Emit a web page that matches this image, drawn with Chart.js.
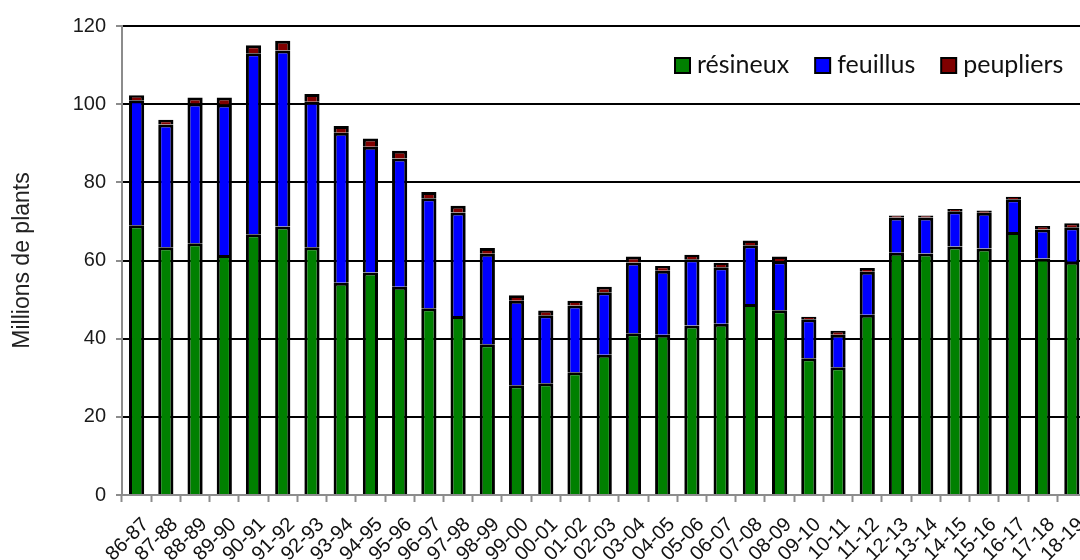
<!DOCTYPE html>
<html><head><meta charset="utf-8">
<script src="https://cdn.jsdelivr.net/npm/chart.js@4.4.0/dist/chart.umd.min.js"></script>
<style>
html,body{margin:0;padding:0;background:#fff;overflow:hidden;width:1080px;height:560px;}
#wrap{position:relative;width:1100px;height:560px;}
</style></head>
<body><div id="wrap"><canvas id="c" width="1100" height="560"></canvas></div>
<script>
const categories = ['86-87','87-88','88-89','89-90','90-91','91-92','92-93','93-94','94-95','95-96','96-97','97-98','98-99','99-00','00-01','01-02','02-03','03-04','04-05','05-06','06-07','07-08','08-09','09-10','10-11','11-12','12-13','13-14','14-15','15-16','16-17','17-18','18-19'];
const resineux  = [69.0,63.4,64.4,61.4,66.7,68.7,63.4,54.3,56.9,53.3,47.8,45.8,38.6,28.1,28.6,31.4,35.9,41.4,41.0,43.4,43.8,48.9,47.3,35.0,32.7,46.1,62.0,61.8,63.6,63.1,67.3,60.5,59.7];
const feuillus  = [32.0,31.4,35.8,38.5,46.3,45.0,37.2,38.4,32.2,32.8,28.1,26.5,23.1,21.6,17.4,17.1,16.0,18.1,16.4,16.9,14.5,15.0,12.5,10.0,8.3,11.0,9.0,9.2,9.0,9.1,8.4,7.4,8.8];
const peupliers = [1.3,1.2,1.5,1.8,2.1,2.5,2.0,1.7,2.1,2.0,1.6,1.7,1.5,1.4,1.2,1.2,1.4,1.5,1.2,1.2,1.1,1.2,1.2,0.6,1.0,1.0,0.5,0.5,0.6,0.6,0.6,0.9,1.0];
const seriesNames = ['résineux','feuillus','peupliers'];
const seriesColors = ['#008000','#0000FF','#800000'];
const yTicks = [0,20,40,60,80,100,120];
const yTitle = 'Millions de plants';

const legendPlugin = {
  id:'insideLegend',
  afterDraw(chart){
    const ctx = chart.ctx;
    ctx.save();
    ctx.font = '25px Lato, "Open Sans", sans-serif';
    ctx.textBaseline = 'alphabetic';
    let x = 674;
    chart.data.datasets.forEach(ds => {
      ctx.fillStyle = ds.backgroundColor;
      ctx.fillRect(x+1, 58, 15, 15);
      ctx.lineWidth = 2; ctx.strokeStyle = '#000';
      ctx.strokeRect(x+1, 58, 15, 15);
      ctx.fillStyle = '#111';
      const tx = x + 23;
      ctx.fillText(ds.label, tx, 73);
      x = tx + ctx.measureText(ds.label).width + 25;
    });
    ctx.restore();
  }
};

const tickFont = {family:'"Liberation Sans", Arial, sans-serif', size:20};

new Chart(document.getElementById('c'), {
  type:'bar',
  data:{
    labels:categories,
    datasets:[resineux,feuillus,peupliers].map((d,i)=>({label:seriesNames[i], data:d, backgroundColor:seriesColors[i], borderColor:'#000', borderWidth:3}))
  },
  options:{
    responsive:false, animation:false,
    layout:{padding:{top:26,right:12,left:0,bottom:0}},
    datasets:{bar:{barPercentage:0.52,categoryPercentage:1}},
    plugins:{legend:{display:false},tooltip:{enabled:false}},
    scales:{
      x:{
        stacked:true,
        grid:{offset:true, drawOnChartArea:false, tickColor:'#8c8c8c', tickLength:7, tickWidth:2},
        border:{color:'#8c8c8c', width:2},
        ticks:{minRotation:45, maxRotation:45, autoSkip:false, font:tickFont, color:'#111', padding:11, labelOffset:9},
        afterFit(s){ s.height = 65; }
      },
      y:{
        stacked:true, min:yTicks[0], max:yTicks[yTicks.length-1],
        afterBuildTicks(s){ s.ticks = yTicks.map(v=>({value:v})); },
        ticks:{font:tickFont, color:'#1a1a1a', padding:10},
        grid:{color:c=>c.tick && c.tick.value===0 ? 'rgba(0,0,0,0)' : '#000', lineWidth:2, tickColor:'#8c8c8c', tickLength:6, tickWidth:2},
        border:{color:'#8c8c8c', width:2},
        title:{display:true, text:yTitle, font:{family:'"Liberation Sans", Arial, sans-serif', size:23}, color:'#222', padding:{top:9,bottom:0}},
        afterFit(s){ s.width = 122; }
      }
    }
  },
  plugins:[legendPlugin]
});
</script>
</body></html>
